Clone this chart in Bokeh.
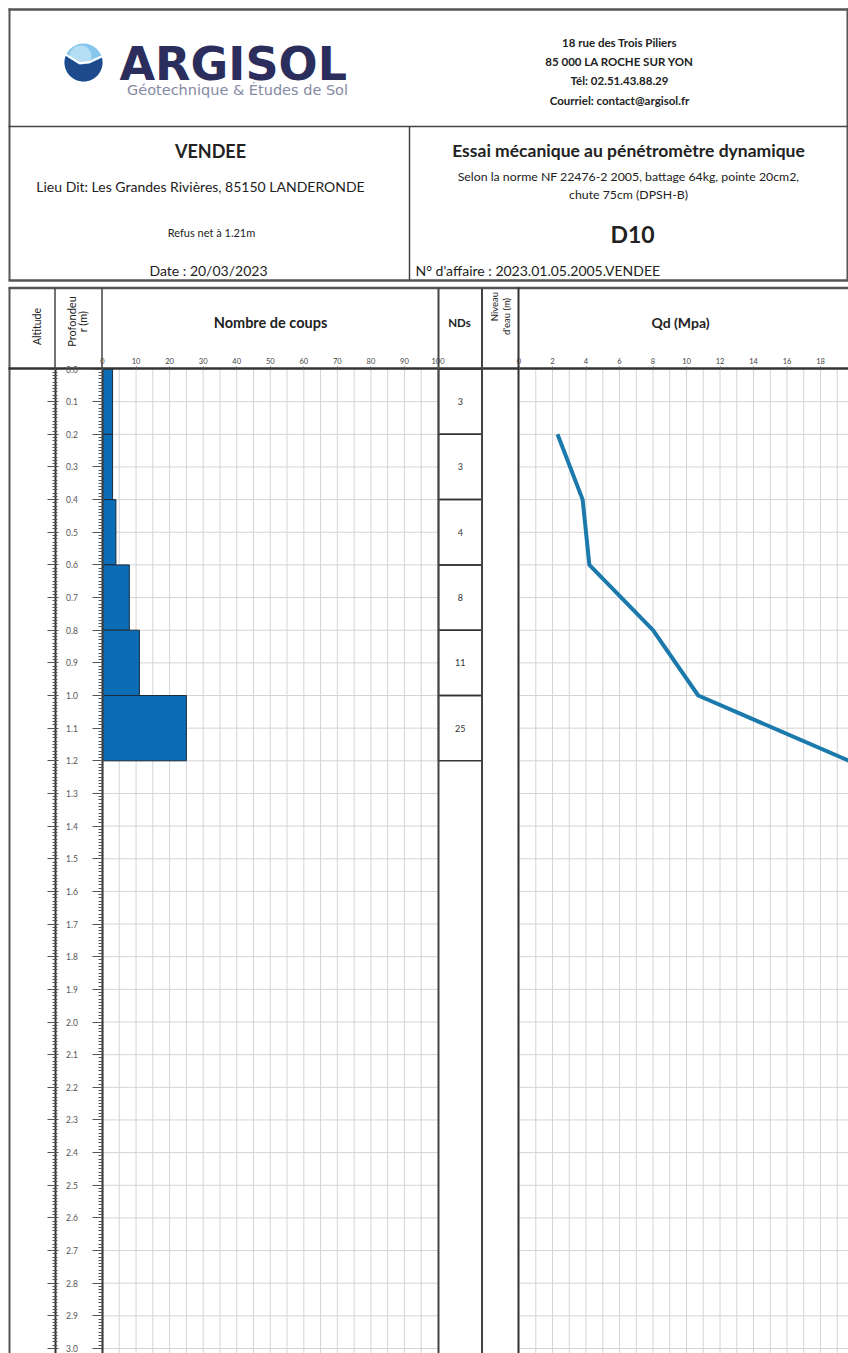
import numpy as np
from bokeh.plotting import figure
from bokeh.models import Range1d, LinearAxis, FixedTicker, PrintfTickFormatter, CustomJSTickFormatter
from bokeh.core.properties import value
from bokeh.embed import file_html
from bokeh.resources import INLINE

# ---------------- data ----------------
layer_top = [0.0, 0.2, 0.4, 0.6, 0.8, 1.0]
layer_bottom = [0.2, 0.4, 0.6, 0.8, 1.0, 1.2]
blows = [3, 3, 4, 8, 11, 25]
qd_depth = [0.2, 0.4, 0.6, 0.8, 1.0, 1.2]
qd_mpa = [2.3, 3.8, 4.2, 8.0, 10.7, 19.7]
coups_ticks = [0, 10, 20, 30, 40, 50, 60, 70, 80, 90, 100]
qd_ticks = [0, 2, 4, 6, 8, 10, 12, 14, 16, 18, 20]
depth_ticks = [round(0.1 * i, 1) for i in range(31)]
depth_minor = [round(0.01 * i, 2) for i in range(301)]

W, H = 848, 1353
FONT = value("Lato")


def X(v):
    return v


def Y(v):
    return v


p = figure(width=W, height=H, x_range=Range1d(0, W), y_range=Range1d(H, 0),
           x_axis_type=None, y_axis_type=None, output_backend="svg",
           toolbar_location=None, min_border=0, title=None)
p.outline_line_color = None
p.background_fill_color = "white"
p.border_fill_color = "white"

# scales for the two charts and the shared depth axis
C0, C100 = X(102.0), X(437.5)
kc = (C100 - C0) / 100.0
p.extra_x_ranges["coups"] = Range1d(-C0 / kc, (W - C0) / kc)
Q0, kq = X(518.5), 16.75
p.extra_x_ranges["qd"] = Range1d(-Q0 / kq, (W - Q0) / kq)
D0, kd = Y(368.5), 326.5
p.extra_y_ranges["depth"] = Range1d((H - D0) / kd, -D0 / kd)

GRID = "#d4d4d4"
# grid of the blow-count chart
gc = list(range(5, 100, 5))
p.segment(x0=gc, y0=[0] * len(gc), x1=gc, y1=[3.1] * len(gc),
          x_range_name="coups", y_range_name="depth", line_color=GRID, line_width=1)
gd = depth_ticks[1:]
p.segment(x0=[0] * len(gd), y0=gd, x1=[100] * len(gd), y1=gd,
          x_range_name="coups", y_range_name="depth", line_color=GRID, line_width=1)
# grid of the Qd chart
gq = list(range(1, 21))
p.segment(x0=gq, y0=[0] * len(gq), x1=gq, y1=[3.1] * len(gq),
          x_range_name="qd", y_range_name="depth", line_color=GRID, line_width=1)
p.segment(x0=[0] * len(gd), y0=gd, x1=[20] * len(gd), y1=gd,
          x_range_name="qd", y_range_name="depth", line_color=GRID, line_width=1)

# bars (blow counts)
p.quad(left=[0] * len(blows), right=blows, top=layer_top, bottom=layer_bottom,
       x_range_name="coups", y_range_name="depth",
       fill_color="#0b6db5", line_color="#1b2b3b", line_width=1)

# Qd line
p.line(qd_mpa, qd_depth, x_range_name="qd", y_range_name="depth",
       line_color="#1b7aab", line_width=4, line_join="round")

# NDs boxes
n = len(blows)
p.quad(left=[X(438)] * n, right=[X(481.5)] * n, top=layer_top, bottom=layer_bottom,
       y_range_name="depth", fill_color=None, line_color="#333333", line_width=1.5)
mid = [(a + b) / 2 for a, b in zip(layer_top, layer_bottom)]
p.text(x=[X(459.75)] * n, y=mid, text=[str(b) for b in blows], y_range_name="depth",
       text_align="center", text_baseline="middle", text_font=FONT,
       text_font_size="9px", text_color="#333333")

# ---------------- frame lines ----------------
def seg(lines, width, color="#444444"):
    p.segment(x0=[X(l[0]) for l in lines], y0=[Y(l[1]) for l in lines],
              x1=[X(l[2]) for l in lines], y1=[Y(l[3]) for l in lines],
              line_color=color, line_width=width)


seg([(8, 9, 848, 9), (8, 280, 848, 280), (8, 287.5, 848, 287.5)], 2.5, "#555555")
seg([(9, 8, 9, 280), (847, 8, 847, 280), (9, 287, 9, 1353)], 2, "#555555")
seg([(8, 126, 848, 126), (409, 126, 409, 280)], 1.5, "#444444")
seg([(8, 368, 848, 368)], 2.5, "#333333")
seg([(54.5, 287, 54.5, 368), (101.5, 287, 101.5, 368)], 1.5, "#444444")
seg([(438, 287, 438, 1353), (481.5, 287, 481.5, 1353)], 2, "#444444")
seg([(518, 287, 518, 1353)], 2, "#333333")

# ---------------- axes ----------------
def style_ticks(ax, size="7.5px"):
    ax.major_label_text_font = "Lato"
    ax.major_label_text_font_size = size
    ax.major_label_text_color = "#444444"
    ax.major_tick_line_color = "#555555"
    ax.minor_tick_line_color = "#555555"


ax_c = LinearAxis(x_range_name="coups", y_range_name="depth", fixed_location=0,
                  bounds=(0, 100), ticker=FixedTicker(ticks=coups_ticks))
style_ticks(ax_c)
ax_c.axis_line_color = None
ax_c.major_tick_in = 0
ax_c.major_tick_out = 3
ax_c.major_label_standoff = 2
p.add_layout(ax_c, "above")

ax_q = LinearAxis(x_range_name="qd", y_range_name="depth", fixed_location=0,
                  bounds=(0, 20), ticker=FixedTicker(ticks=qd_ticks))
style_ticks(ax_q)
ax_q.axis_line_color = None
ax_q.major_tick_in = 0
ax_q.major_tick_out = 3
ax_q.major_label_standoff = 2
p.add_layout(ax_q, "above")

ax_d1 = LinearAxis(y_range_name="depth", fixed_location=X(54.5), bounds=(0, 3.1),
                   ticker=FixedTicker(ticks=depth_ticks, minor_ticks=depth_minor),
                   formatter=PrintfTickFormatter(format="%.1f"))
style_ticks(ax_d1, "8.5px")
ax_d1.major_label_text_color = "#555555"
ax_d1.axis_line_width = 2
ax_d1.axis_line_color = "#333333"
ax_d1.major_tick_in = 8
ax_d1.major_tick_out = 3
ax_d1.minor_tick_in = 3
ax_d1.minor_tick_out = 2
ax_d1.major_label_standoff = 8
p.add_layout(ax_d1, "right")

ax_d2 = LinearAxis(y_range_name="depth", fixed_location=X(101.5), bounds=(0, 3.1),
                   ticker=FixedTicker(ticks=depth_ticks, minor_ticks=depth_minor),
                   formatter=CustomJSTickFormatter(code="return ''"))
style_ticks(ax_d2)
ax_d2.axis_line_width = 2
ax_d2.axis_line_color = "#333333"
ax_d2.major_tick_in = 0
ax_d2.major_tick_out = 10
ax_d2.minor_tick_in = 1
ax_d2.minor_tick_out = 4
p.add_layout(ax_d2, "left")

# ---------------- texts ----------------
def txt(x, y, s, size, bold=False, color="#222222", align="center", angle=0.0, font=FONT):
    p.text(x=[X(x)], y=[Y(y)], text=[s], text_font=font, text_font_size=size,
           text_font_style="bold" if bold else "normal", text_color=color,
           text_align=align, text_baseline="middle", angle=angle)


# logo
cx, cy, r = X(83), Y(62), 19
p.circle(x=[cx], y=[cy], radius=r, fill_color="#86c6ec", line_color=None)
p.circle(x=[cx - 3], y=[cy - 6], radius=11, fill_color="#c9e7f8", line_color=None, fill_alpha=0.7)
t = np.linspace(-0.25, np.pi + 0.35, 60)
arc_x = cx + r * np.cos(t)
arc_y = cy + r * np.sin(t)
wx = np.linspace(arc_x[-1], arc_x[0], 30)
wy = np.interp(wx, [arc_x[-1], cx - 4, cx + 6, arc_x[0]], [arc_y[-1], cy + 2, cy + 1, arc_y[0]])
p.patch(x=list(arc_x) + list(wx), y=list(arc_y) + list(wy), fill_color="#1d4a8c", line_color=None)
p.line(x=wx, y=wy - 1.5, line_color="white", line_width=2)
txt(119, 63, "ARGISOL", "46px", bold=True, color="#2b2d5c", align="left", font=value("DejaVu Sans"))
txt(237, 89, "Géotechnique & Études de Sol", "14.5px", color="#858aa3", font=value("DejaVu Sans"))

# address
for yy, s in zip([42, 61, 80, 100], ["18 rue des Trois Piliers", "85 000 LA ROCHE SUR YON",
                                     "Tél: 02.51.43.88.29", "Courriel: contact@argisol.fr"]):
    txt(619, yy, s, "11.5px", bold=True)

# project block
txt(210, 150, "VENDEE", "18px", bold=True)
txt(200, 186, "Lieu Dit: Les Grandes Rivières, 85150 LANDERONDE", "14px")
txt(211, 232, "Refus net à 1.21m", "11px")
txt(208, 270, "Date : 20/03/2023", "14px")
txt(628, 150, "Essai mécanique au pénétromètre dynamique", "17.5px", bold=True)
txt(628, 176, "Selon la norme NF 22476-2 2005, battage 64kg, pointe 20cm2,", "12.3px")
txt(628, 194, "chute 75cm (DPSH-B)", "12.3px")
txt(632, 233, "D10", "23px", bold=True)
txt(415, 270, "N° d'affaire : 2023.01.05.2005.VENDEE", "14px", align="left")

# table headers
txt(270, 322, "Nombre de coups", "14.5px", bold=True)
txt(459, 322, "NDs", "11.5px", bold=True)
txt(680, 322, "Qd (Mpa)", "14px", bold=True)
txt(36, 326, "Altitude", "10.5px", angle=np.pi / 2)
txt(71, 321, "Profondeu", "11px", angle=np.pi / 2)
txt(82, 321, "r (m)", "11px", angle=np.pi / 2)
txt(494, 306, "Niveau", "9.5px", angle=np.pi / 2)
txt(506, 316, "d'eau (m)", "9.5px", angle=np.pi / 2)

open("out.html", "w").write(file_html(p, INLINE))
